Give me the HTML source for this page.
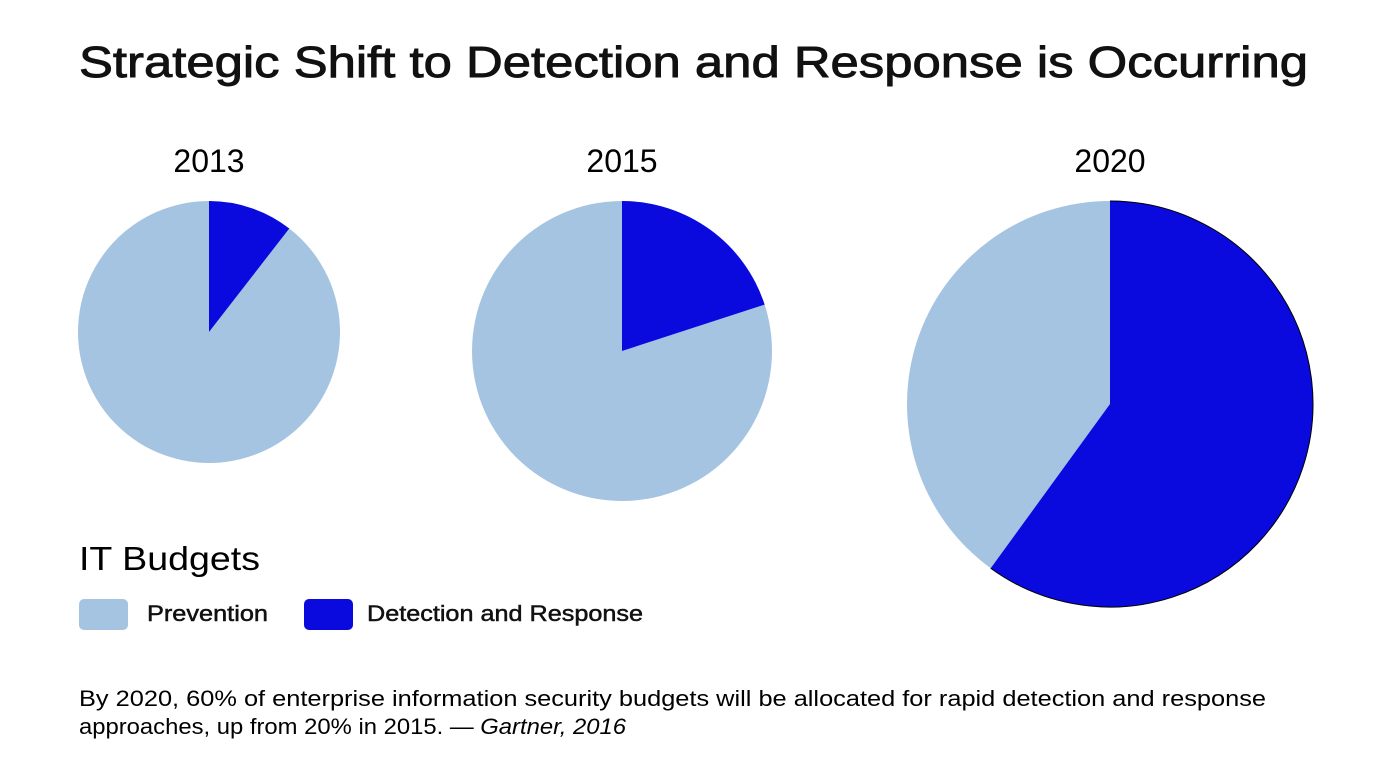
<!DOCTYPE html>
<html><head><meta charset="utf-8">
<style>
html,body{margin:0;padding:0;background:#fff;}
body{width:1387px;height:769px;overflow:hidden;position:relative;font-family:"Liberation Sans",sans-serif;color:#000;}
</style></head>
<body>
<svg id="chart" width="1387" height="769" xmlns="http://www.w3.org/2000/svg" style="position:absolute;left:0;top:0">
<text x="79" y="77" font-size="44" stroke="#111" stroke-width="0.9" textLength="1229" lengthAdjust="spacingAndGlyphs" font-family="Liberation Sans, sans-serif" fill="#111">Strategic Shift to Detection and Response is Occurring</text>
<g id="pies"></g>
<text x="79" y="570" font-size="33" textLength="181" lengthAdjust="spacingAndGlyphs" font-family="Liberation Sans, sans-serif">IT Budgets</text>
<rect x="79" y="599" width="49" height="31" rx="5" fill="#a5c4e1"/>
<text x="147" y="621" font-size="22" stroke="#111" stroke-width="0.5" textLength="121" lengthAdjust="spacingAndGlyphs" font-family="Liberation Sans, sans-serif" fill="#111">Prevention</text>
<rect x="304" y="599" width="49" height="31" rx="5" fill="#0a0adf"/>
<text x="367" y="621" font-size="22" stroke="#111" stroke-width="0.5" textLength="276" lengthAdjust="spacingAndGlyphs" font-family="Liberation Sans, sans-serif" fill="#111">Detection and Response</text>
<text x="79" y="706" font-size="22" textLength="1187" lengthAdjust="spacingAndGlyphs" font-family="Liberation Sans, sans-serif">By 2020, 60% of enterprise information security budgets will be allocated for rapid detection and response</text>
<text x="79" y="734" font-size="22" textLength="547" lengthAdjust="spacingAndGlyphs" font-family="Liberation Sans, sans-serif">approaches, up from 20% in 2015. — <tspan font-style="italic">Gartner, 2016</tspan></text>
</svg>
<script>
const years = ["2013", "2015", "2020"];
const detectionShare = [10.5, 20, 60];
const preventionShare = [89.5, 80, 40];
const layout = [{cx:209,cy:332,r:131},{cx:622,cy:351,r:150},{cx:1110,cy:404,r:203}];
const NS = "http://www.w3.org/2000/svg";
const g = document.getElementById("pies");
function pt(cx,cy,r,frac){const a=frac*2*Math.PI;return [cx+r*Math.sin(a),cy-r*Math.cos(a)];}
function slice(cx,cy,r,f0,f1){
  const p0=pt(cx,cy,r,f0),p1=pt(cx,cy,r,f1),large=(f1-f0)>0.5?1:0;
  return `M${cx},${cy} L${p0[0]},${p0[1]} A${r},${r} 0 ${large} 1 ${p1[0]},${p1[1]} Z`;
}
years.forEach((y,i)=>{
  const L=layout[i];
  const tot=detectionShare[i]+preventionShare[i];
  const d=detectionShare[i]/tot;
  const t=document.createElementNS(NS,"text");
  
  
  t.setAttribute("x",L.cx);t.setAttribute("y",172);t.setAttribute("text-anchor","middle");
  t.setAttribute("font-size","32");t.textContent=y;g.appendChild(t);
  const pp=document.createElementNS(NS,"path");
  
  
  pp.setAttribute("d",slice(L.cx,L.cy,L.r,d,1));pp.setAttribute("fill","#a5c4e1");g.appendChild(pp);
  const pd=document.createElementNS(NS,"path");
  
  
  pd.setAttribute("d",slice(L.cx,L.cy,L.r,0,d));pd.setAttribute("fill","#0a0adf");g.appendChild(pd);
  if(d>0.5){
    const p0=pt(L.cx,L.cy,L.r,0),p1=pt(L.cx,L.cy,L.r,d);
    const arc=document.createElementNS(NS,"path");
    
    
    arc.setAttribute("d",`M${p0[0]},${p0[1]} A${L.r},${L.r} 0 1 1 ${p1[0]},${p1[1]}`);
    arc.setAttribute("fill","none");arc.setAttribute("stroke","#000");arc.setAttribute("stroke-width","1");
    g.appendChild(arc);
  }
});
</script>
</body></html>
